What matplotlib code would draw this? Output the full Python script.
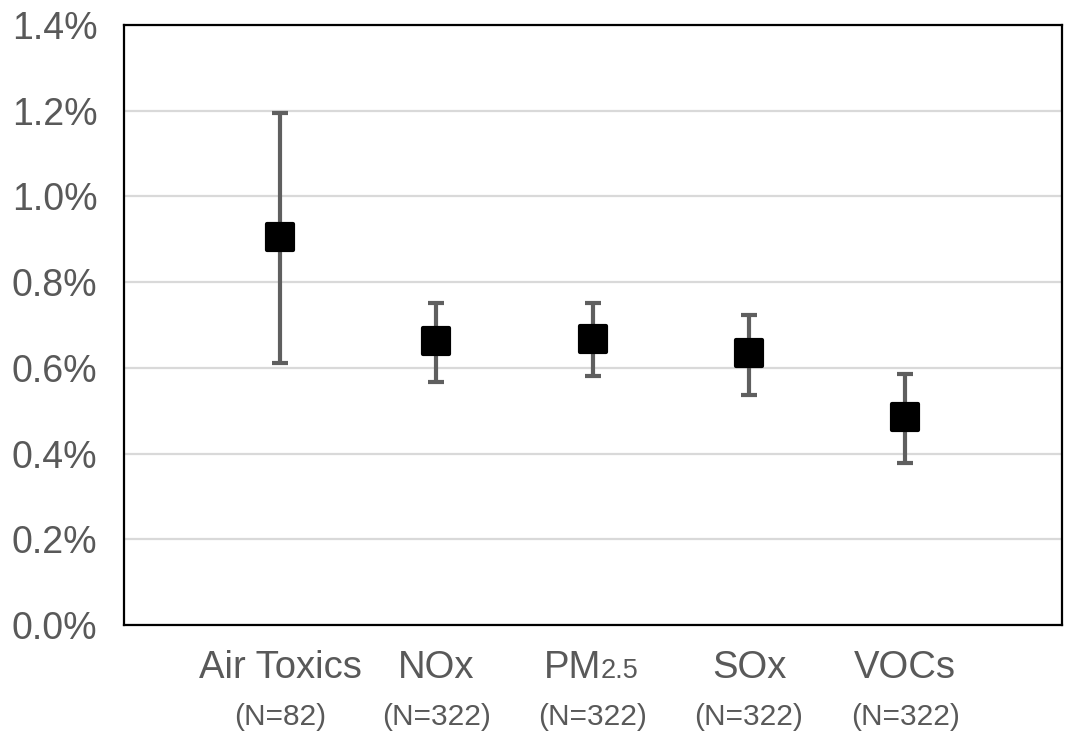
import matplotlib
matplotlib.use("Agg")
import matplotlib.pyplot as plt
import matplotlib.transforms as mtransforms
from matplotlib.markers import MarkerStyle
from matplotlib.ticker import FuncFormatter

plt.rcParams['font.family'] = ['Liberation Sans', 'DejaVu Sans']

categories = ["Air Toxics", "NOx", "PM", "SOx", "VOCs"]
cat_subs = ["", "", "2.5", "", ""]
sample_sizes = ["(N=82)", "(N=322)", "(N=322)", "(N=322)", "(N=322)"]
means = [0.906, 0.662, 0.667, 0.635, 0.485]
upper = [1.194, 0.750, 0.751, 0.723, 0.585]
lower = [0.612, 0.568, 0.580, 0.536, 0.377]
y_ticks = [0.0, 0.2, 0.4, 0.6, 0.8, 1.0, 1.2, 1.4]

fig = plt.figure(figsize=(10.68, 7.31), dpi=100)
ax = fig.add_axes([0.116, 0.145, 0.878, 0.821])

x = list(range(1, len(categories) + 1))
err_lo = [m - l for m, l in zip(means, lower)]
err_hi = [u - m for m, u in zip(means, upper)]

ax.errorbar(x, means, yerr=[err_lo, err_hi], fmt='none', ecolor='#5f5f5f',
            elinewidth=3.0, capsize=5.8, capthick=3.0, zorder=3)
ax.plot(x, means, linestyle='none', marker=MarkerStyle('s', joinstyle='round'),
        markersize=19, markerfacecolor='black', markeredgecolor='black',
        markeredgewidth=3, zorder=4)

ax.set_xlim(0, 6)
ax.set_ylim(0, 1.4)
ax.set_yticks(y_ticks)
ax.yaxis.set_major_formatter(FuncFormatter(lambda v, p: f"{v:.1f}%"))
ax.tick_params(axis='y', length=0, pad=19, labelsize=27, labelcolor='#595959')
ax.set_xticks([])
ax.grid(axis='y', color='#d9d9d9', linewidth=1.6, zorder=0)
ax.set_axisbelow(True)
for s in ax.spines.values():
    s.set_color('black')
    s.set_linewidth(1.6)

trans = mtransforms.blended_transform_factory(ax.transData, ax.transAxes)
for xi, name, sub, n in zip(x, categories, cat_subs, sample_sizes):
    if sub:
        ax.annotate(name, xy=(xi, 0), xycoords=trans, xytext=(6, -38.5),
                    textcoords='offset points', ha='right', va='baseline',
                    fontsize=27.5, color='#595959')
        ax.annotate(sub, xy=(xi, 0), xycoords=trans, xytext=(6, -38.5),
                    textcoords='offset points', ha='left', va='baseline',
                    fontsize=19.5, color='#595959')
    else:
        ax.annotate(name, xy=(xi, 0), xycoords=trans, xytext=(0, -38.5),
                    textcoords='offset points', ha='center', va='baseline',
                    fontsize=27.5, color='#595959')
    ax.annotate(n, xy=(xi, 0), xycoords=trans, xytext=(0, -72),
                textcoords='offset points', ha='center', va='baseline',
                fontsize=21.5, color='#595959')

fig.savefig("out.png", dpi=100)
